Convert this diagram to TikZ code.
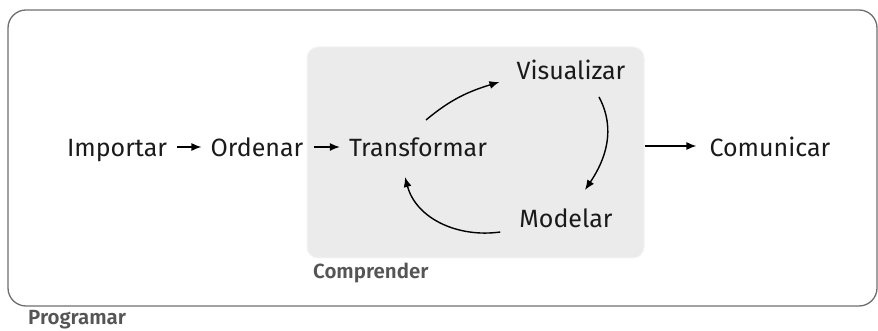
\documentclass[tikz,border=0pt]{standalone}
\usepackage{fontspec}
\setmainfont{Fira Sans}
\newfontfamily\labfont{Fira Sans SemiBold}
\usetikzlibrary{arrows.meta}
\definecolor{boxline}{HTML}{6E6E6E}
\definecolor{boxfill}{HTML}{EBEBEB}
\definecolor{labgray}{HTML}{555555}
\definecolor{txt}{HTML}{1A1A1A}
\begin{document}
\begin{tikzpicture}[x=1pt,y=1pt,
  step text/.style={anchor=base,inner sep=0pt,text=txt,font=\fontsize{25}{29}\selectfont},
  grouplab/.style={anchor=base west,inner sep=0pt,text=labgray,font=\labfont\fontsize{20.5}{24}\selectfont},
  arr/.style={line width=1.4pt,-{Latex[length=10pt,width=8pt]},black},
  outerbox/.style={draw=boxline,line width=1.3pt,rounded corners=18pt,minimum width=869pt,minimum height=296pt,inner sep=0pt},
  innerbox/.style={fill=boxfill,draw=boxfill!60!white,line width=1pt,rounded corners=11pt,minimum width=337pt,minimum height=211pt,inner sep=0pt}]
\useasboundingbox (0,0) rectangle (878,331);
\node[outerbox] (prog) at (442.5,173) {};
\node[innerbox] (comp) at (475.5,178.5) {};
\node[grouplab] (proglab) at (28,6) {Programar};
\node[grouplab] (complab) at (313,52) {Comprender};
\node[step text] (imp) at (117,174) {Importar};
\node[step text] (ord) at (257,174) {Ordenar};
\node[step text] (trans) at (418,174) {Transformar};
\node[step text] (vis) at (571,251) {Visualizar};
\node[step text] (mod) at (566,103) {Modelar};
\node[step text] (com) at (770,174) {Comunicar};
\draw[arr] ([shift={(10,10)}]imp.base east) -- ([shift={(-9,10)}]ord.base west);
\draw[arr] ([shift={(10,10)}]ord.base east) -- ([shift={(-9,10)}]trans.base west);
\draw[arr] ([shift={(8,37)}]trans.base) to[out=40,in=197] ([shift={(-17,-2)}]vis.base west);
\draw[arr] ([shift={(28,-17)}]vis.base) to[out=-62,in=56] ([shift={(19,38)}]mod.base);
\draw[arr] ([shift={(-19,-4)}]mod.base west) to[out=188,in=285] ([shift={(-13,-20)}]trans.base);
\draw[arr] ([yshift=6.5]comp.east) -- ([shift={(-13,11)}]com.base west);
\end{tikzpicture}
\end{document}
